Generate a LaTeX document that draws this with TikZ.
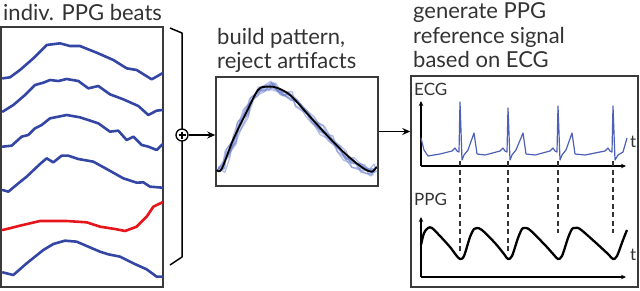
\documentclass[tikz,border=0pt]{standalone}
\usepackage{fontspec}
\setmainfont{Lato}
\usetikzlibrary{arrows.meta,calc}
\definecolor{beat}{HTML}{3446A3}
\definecolor{bad}{HTML}{E8141C}
\definecolor{ecg}{HTML}{4C60B8}
\definecolor{lite}{HTML}{6C80CC}
\definecolor{frame}{HTML}{3A3A3A}
\begin{document}
\begin{tikzpicture}[x=1pt,y=-1pt,
  box/.style={draw=frame,line width=1.5pt,inner sep=0pt},
  title/.style={anchor=base west,inner sep=0pt,font=\fontsize{22}{25}\selectfont,text=black!80},
  axlab/.style={anchor=base west,inner sep=0pt,font=\fontsize{17}{20}\selectfont,text=black!80},
  beatline/.style={line width=2.6pt,color=beat,line join=round,line cap=round},
  link/.style={line width=1.5pt,-{Stealth[length=8pt,width=7pt]}},
  axis/.style={line width=1.3pt,-{Stealth[length=5pt,width=4.5pt]}},
  guide/.style={line width=1.4pt,dash pattern=on 5pt off 3.5pt,color=black!80}]
\useasboundingbox (0,0) rectangle (640,290);
% titles
\node[title] (t1) at (3,20.5) {indiv. PPG beats};
\node[title] (t2a) at (217,44) {build pattern,};
\node[title] (t2b) at (217,68) {reject artifacts};
\node[title] (t3a) at (413,18) {generate PPG};
\node[title] (t3b) at (413,43) {reference signal};
\node[title] (t3c) at (413,67) {based on ECG};
% boxes
\node[box,minimum width=162pt,minimum height=260pt] (beats) at (82,157) {};
\node[box,minimum width=162pt,minimum height=109pt] (pat) at (297,131.5) {};
\node[box,minimum width=227pt,minimum height=211pt] (gen) at (524.5,181.5) {};
% beats
\begin{scope}[xscale=1/3,yscale=1/3]
\draw[beatline] plot coordinates {(8,235)(30,232)(60,210)(100,175)(140,135)(180,130)(210,138)(240,138)(290,158)(340,180)(380,205)(410,210)(455,238)(487,220)};
\draw[beatline] plot coordinates {(8,335)(40,315)(75,285)(105,255)(130,248)(150,240)(175,243)(200,237)(235,243)(265,265)(295,258)(330,283)(370,298)(415,318)(445,345)(470,332)(487,330)};
\draw[beatline] plot coordinates {(8,440)(35,437)(65,410)(85,405)(105,385)(125,375)(150,355)(200,345)(240,352)(295,370)(330,395)(355,392)(380,420)(400,410)(425,435)(445,440)(470,450)(487,433)};
\draw[beatline] plot coordinates {(8,570)(25,575)(55,550)(80,530)(120,492)(140,475)(160,487)(185,467)(205,467)(235,477)(280,485)(320,507)(370,535)(410,548)(430,547)(450,560)(487,563)};
\draw[beatline,color=bad] plot coordinates {(8,690)(60,677)(120,663)(200,663)(260,667)(300,680)(345,687)(375,693)(410,680)(440,650)(460,620)(487,607)};
\draw[beatline] plot coordinates {(8,817)(40,825)(80,790)(130,750)(160,732)(195,722)(230,725)(265,740)(300,755)(325,763)(360,770)(400,790)(440,808)(470,830)(487,830)};
\end{scope}
% bracket and sum
\coordinate (bt) at (170,28);
\coordinate (bb) at (170,265);
\draw[line width=1.5pt,line join=round] (bt) -- (182,33) -- (182,257) -- (bb);
\node[circle,draw=black,fill=white,line width=1.3pt,minimum size=12pt,inner sep=0pt] (plus) at (182,135) {};
\draw[line width=1.1pt] ($(plus)+(-3.5,0)$) -- ($(plus)+(3.5,0)$) ($(plus)+(0,-3.5)$) -- ($(plus)+(0,3.5)$);
\draw[link] (plus.east) -- (plus -| pat.west);
\draw[link] (pat.east) -- (pat.east -| gen.west);
% pattern
\pgfmathsetseed{11}
\foreach \k in {1,...,9}{
  \draw[lite,opacity=0.5,line width=1.3pt,line join=round]
    (218,{169+2*rand}) \foreach \px/\py in {222/167,228/153,234/138,240/124,246/111,252/99,258/90,264/86,270/84,276/86,283/90,290/95,298/102,306/111,314/120,322/129,330/137,338/146,346/154,354/161,362/167,368/171,372/171,376/166}{ -- ({\px+3*rand},{\py+1.5+5*rand}) };
}
\draw[black,line width=1.8pt,line join=round] plot[smooth,tension=0.55] coordinates {(216.7,170)(221.7,169)(233,140)(246.7,111.7)(258,90)(266.7,86.7)(276.7,87.7)(290,95)(306.7,113)(326.7,135)(346.7,155)(363,168)(371.7,171.7)(376.7,166.7)};
% ECG axes
\coordinate (eo) at (421,166);
\coordinate (ey) at (421,101);
\coordinate (ex) at (626,166);
\draw[axis] (eo) -- (ey);
\draw[axis] (eo) -- (ex);
\node[axlab] (ecgl) at (414,95) {ECG};
\node[axlab] (et) at (630,147) {t};
% PPG axes
\coordinate (po) at (421,277);
\coordinate (py) at (421,217);
\coordinate (px) at (626,277);
\draw[axis] (po) -- (py);
\draw[axis] (po) -- (px);
\node[axlab] (ppgl) at (414,205) {PPG};
\node[axlab] (pt) at (630,260) {t};
% dashed guides
\coordinate (r1) at (460,161); \coordinate (m1) at (460,253);
\coordinate (r2) at (508,161); \coordinate (m2) at (508,253);
\coordinate (r3) at (558,161); \coordinate (m3) at (558,233);
\coordinate (r4) at (613,161); \coordinate (m4) at (613,233);
\draw[guide] (r1) -- (m1);
\draw[guide] (r2) -- (m2);
\draw[guide] (r3) -- (m3);
\draw[guide] (r4) -- (m4);
% ECG signal
\draw[ecg,line width=1.2pt,line join=round] (421,138) -- (424,150) -- (428,156) -- (440,154) -- (452,151) -- (455,148) -- (457,151) -- (459,152) -- (460,102) -- (462,160) -- (464,155) -- (468,150) -- (474,133) -- (477,154) -- (485,155) -- (500,151) -- (503,148) -- (505,151) -- (507,152) -- (508,108) -- (510,160) -- (512,155) -- (516,150) -- (523,133) -- (526,154) -- (535,155) -- (550,151) -- (553,148) -- (555,151) -- (557,152) -- (558,106) -- (560,160) -- (562,155) -- (566,150) -- (572,133) -- (575,154) -- (585,155) -- (605,151) -- (608,148) -- (610,151) -- (612,152) -- (613,106) -- (615,160) -- (618,155) -- (623,152) -- (627,138);
% PPG signal
\draw[black,line width=2.3pt,line join=round] plot[smooth,tension=0.5] coordinates {(421,245)(424,233)(428,228)(432,228)(440,236)(450,247)(456,255)(460,259)(464,256)(470,237)(474,229)(477,228)(482,230)(495,243)(504,254)(508,259)(512,256)(518,238)(522,229)(525,228)(530,230)(545,245)(554,255)(558,259)(562,256)(568,238)(572,229)(575,228)(580,229)(595,242)(608,254)(613,259)(617,256)(623,240)(627,230)};
\end{tikzpicture}
\end{document}
